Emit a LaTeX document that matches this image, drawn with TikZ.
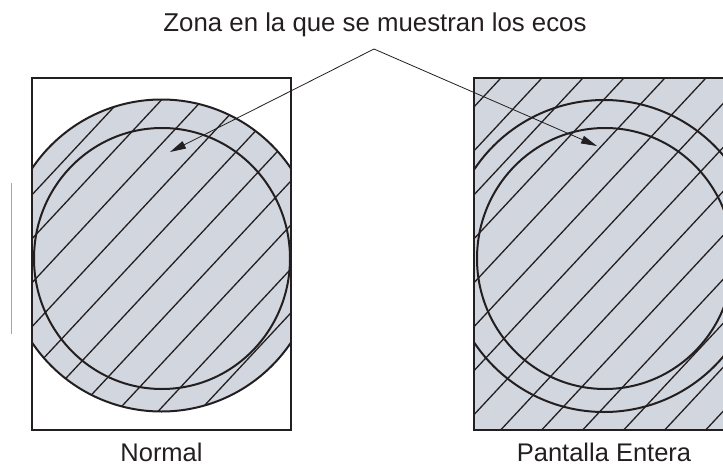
\documentclass[tikz,border=0pt]{standalone}
\usepackage{fontspec}
\setmainfont{Liberation Sans}
\usetikzlibrary{arrows.meta}
\definecolor{zonefill}{RGB}{210,214,222}
\definecolor{ink}{RGB}{35,31,32}
\begin{document}
\begin{tikzpicture}[x=1pt,y=-1pt,
  frame/.style={draw=ink, line width=2pt},
  ring/.style={draw=ink, line width=2pt},
  hatch/.style={draw=ink, line width=1.3pt},
  pointer/.style={draw=ink, line width=0.8pt, -{Triangle[length=16pt,width=8pt]}},
  caption/.style={font=\fontsize{25.5}{30}\selectfont, text=ink, inner sep=0pt}]
\useasboundingbox (0,0) rectangle (723,471);

% left panel (Normal)
\begin{scope}
  \clip (32,78) rectangle (291,430);
  \fill[zonefill] (161.5,255.5) circle[radius=156pt];
  \begin{scope}
    \clip (161.5,255.5) circle[radius=156pt];
    \foreach \k in {-2,...,16} {
      \draw[hatch] ({58+41*\k+120.3},-50) -- ({58+41*\k-392.6},500);
    }
  \end{scope}
  \draw[ring] (161.5,255.5) circle[radius=156pt];
\end{scope}
\draw[ring] (162,258.5) ellipse[x radius=128pt, y radius=130.5pt];
\draw[frame] (32,78) rectangle (291,430);

% small gray mark at far left
\draw[gray!70, line width=0.9pt] (11.5,183) -- (11.5,334);

% right panel (Pantalla Entera)
\fill[zonefill] (474,78) rectangle (733,430);
\begin{scope}
  \clip (474,78) rectangle (733,430);
  \foreach \k in {-2,...,16} {
    \draw[hatch] ({500+41*\k+120.3},-50) -- ({500+41*\k-392.6},500);
  }
  \draw[ring] (604,256) circle[radius=156pt];
  \draw[ring] (605,258.5) ellipse[x radius=128pt, y radius=130.5pt];
\end{scope}
\draw[frame] (733,78) -- (474,78) -- (474,430) -- (733,430);

% labels
\node[caption, anchor=base, font=\fontsize{25.8}{30}\selectfont] (title) at (375,31.5) {Zona en la que se muestran los ecos};
\node[caption, anchor=base] (lblN) at (161.5,461) {Normal};
\node[caption, anchor=base] (lblP) at (604,461) {Pantalla Entera};

% pointers
\coordinate (apex) at (374,49);
\coordinate (tipL) at (170,152);
\coordinate (tipR) at (597,146);
\draw[pointer] (apex) -- (tipL);
\draw[pointer] (apex) -- (tipR);
\end{tikzpicture}
\end{document}
